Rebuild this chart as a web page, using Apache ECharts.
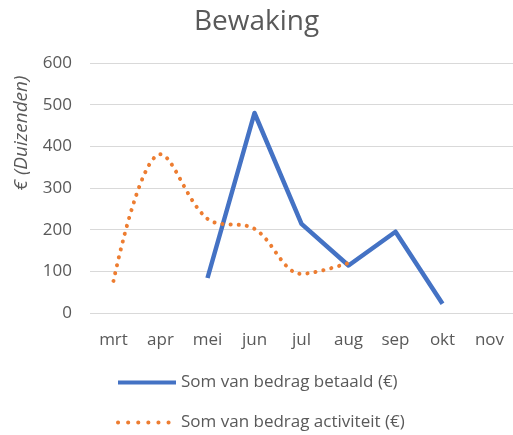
<!DOCTYPE html>
<html><head><meta charset="utf-8">
<script src="https://cdn.jsdelivr.net/npm/echarts@6/dist/echarts.min.js"></script>
<style>html,body{margin:0;padding:0;background:#fff}#c{width:513px;height:435px}</style>
</head><body><div id="c"></div>
<script>
const categories = ['mrt','apr','mei','jun','jul','aug','sep','okt','nov'];
const betaald = [null, null, 84, 480, 214, 114, 195, 22, null];
const activiteit = [77, 381, 226, 202, 94, 120, null, null, null];
const yTicks = [0, 100, 200, 300, 400, 500, 600];
const FONT = '"Open Sans", sans-serif';
const chart = echarts.init(document.getElementById('c'));
chart.setOption({
  animation: false,
  backgroundColor: '#fff',
  title: { text: 'Bewaking', left: 'center', top: 3,
    textStyle: { fontFamily: FONT, fontSize: 28, fontWeight: 'normal', color: '#595959' } },
  grid: { left: 90, right: 0, top: 63, bottom: 122 },
  xAxis: { type: 'category', data: categories, boundaryGap: true,
    axisLine: { show: false }, axisTick: { show: false },
    axisLabel: { fontFamily: FONT, fontSize: 17, color: '#595959', margin: 19 } },
  yAxis: { type: 'value', min: yTicks[0], max: yTicks[yTicks.length-1], interval: 100,
    axisLine: { show: false }, axisTick: { show: false },
    axisLabel: { fontFamily: FONT, fontSize: 17, color: '#595959', margin: 18 },
    splitLine: { lineStyle: { color: '#d9d9d9', width: 1 } } },
  legend: { orient: 'vertical', left: 116, top: 374, padding: 0, itemGap: 23,
    itemWidth: 58, itemHeight: 18,
    itemStyle: { opacity: 0 },
    textStyle: { fontFamily: FONT, fontSize: 17, color: '#595959' },
    data: [
      { name: 'Som van bedrag betaald (€)', lineStyle: { width: 4 } },
      { name: 'Som van bedrag activiteit (€)', lineStyle: { width: 4, type: [0.1, 10] } }
    ] },
  graphic: [{ type: 'text', x: 22, y: 133, rotation: Math.PI/2,
    style: { text: '€ (Duizenden)', fontFamily: FONT, fontSize: 19, fontStyle: 'italic',
      fill: '#595959', align: 'center', verticalAlign: 'middle' } }],
  series: [
    { name: 'Som van bedrag betaald (€)', type: 'line', data: betaald, symbol: 'none',
      connectNulls: false, itemStyle: { color: '#4472C4' },
      lineStyle: { color: '#4472C4', width: 4.5, join: 'round' } },
    { name: 'Som van bedrag activiteit (€)', type: 'line', data: activiteit, symbol: 'none',
      smooth: 0.35, itemStyle: { color: '#ED7D31' },
      lineStyle: { color: '#ED7D31', width: 4, type: [0.1, 8], cap: 'round' } }
  ]
});
</script></body></html>
